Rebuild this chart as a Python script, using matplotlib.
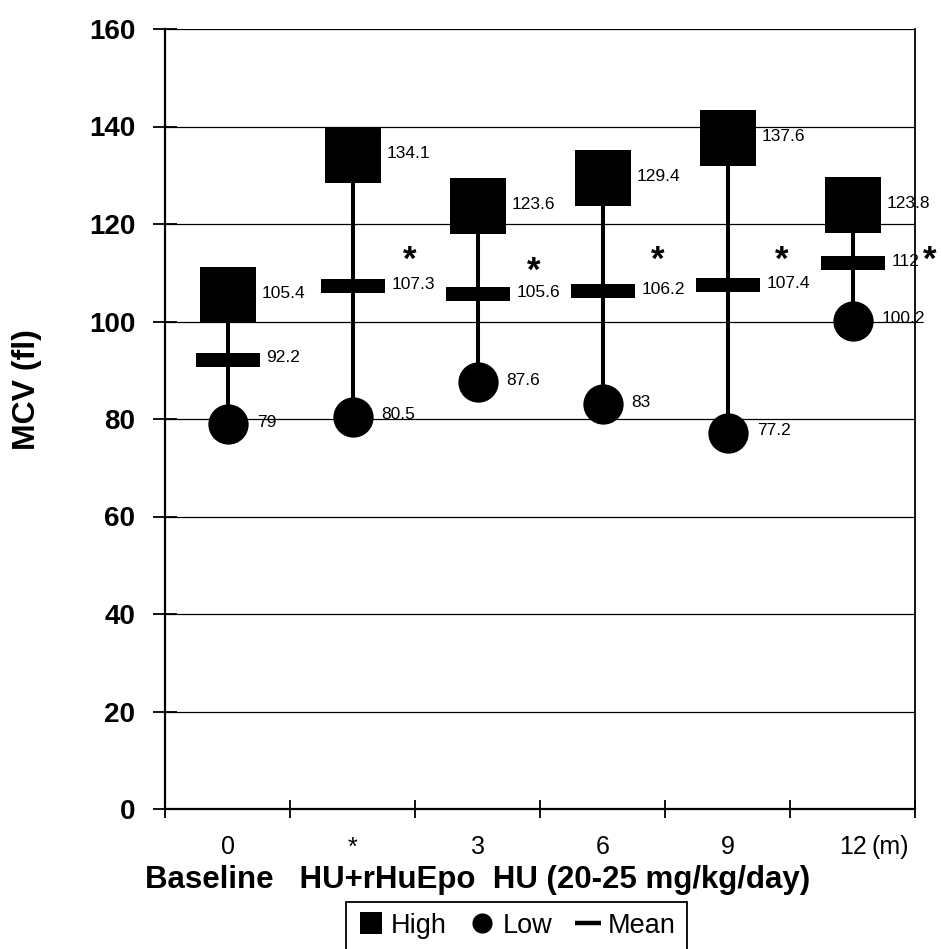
import numpy as np
import matplotlib
matplotlib.use('Agg')
import matplotlib.pyplot as plt
from matplotlib.lines import Line2D

plt.rcParams['font.family'] = ['Liberation Sans', 'DejaVu Sans']

# data
categories = ['0', '*', '3', '6', '9', '12']
high = [105.4, 134.1, 123.6, 129.4, 137.6, 123.8]
low = [79, 80.5, 87.6, 83, 77.2, 100.2]
mean = [92.2, 107.3, 105.6, 106.2, 107.4, 112]
# significance stars (x between groups, y in data units)
star_x = [1.46, 2.45, 3.44, 4.43, 5.62]
star_y = [114.7, 112.4, 114.7, 114.7, 114.7]

W, H = 941, 949
fig = plt.figure(figsize=(W / 100, H / 100), dpi=100)
ax = fig.add_axes([165 / W, 1 - 809 / H, 750 / W, 780 / H])

x = np.arange(len(categories))
ax.set_xlim(-0.5, len(categories) - 0.5)
ax.set_ylim(0, 160)

# grid
ax.set_yticks(np.arange(0, 161, 20))
ax.yaxis.grid(True, color='black', lw=0.9)
ax.set_axisbelow(True)

# stems and markers
ax.vlines(x, low, high, color='black', lw=2.9, zorder=2)
ax.plot(x, high, ls='none', marker='s', ms=40, mfc='black', mec='black', mew=0, zorder=3)
ax.plot(x, low, ls='none', marker='o', ms=29, mfc='black', mec='black', mew=0, zorder=3)
bar = [(-1, -0.21), (1, -0.21), (1, 0.21), (-1, 0.21), (-1, -0.21)]
ax.plot(x, mean, ls='none', marker=bar, ms=46, mfc='black', mec='black', mew=0, zorder=3)

# value labels
for i in range(len(categories)):
    ax.annotate('%g' % high[i], (x[i], high[i]), xytext=(24.5, 1.2), textcoords='offset points',
                fontsize=12.5, va='center', ha='left', zorder=4)
    ax.annotate('%g' % mean[i], (x[i], mean[i]), xytext=(28, 1.2), textcoords='offset points',
                fontsize=12.5, va='center', ha='left', zorder=4)
    ax.annotate('%g' % low[i], (x[i], low[i]), xytext=(21, 1.2), textcoords='offset points',
                fontsize=12.5, va='center', ha='left', zorder=4)

star_fs = 25
for sx, sy in zip(star_x, star_y):
    ax.annotate('*', (sx, sy), xytext=(0, -0.57 * star_fs), textcoords='offset points',
                fontsize=star_fs, fontweight='bold', ha='center', va='baseline',
                annotation_clip=False)

# spines
ax.spines['top'].set_visible(False)
for s in ['left', 'bottom']:
    ax.spines[s].set_linewidth(1.6)
ax.spines['right'].set_linewidth(1.3)

# ticks
ax.set_xticks(x)
ax.set_xticklabels(categories, fontsize=18)
ax.set_xticks(np.arange(-0.5, len(categories), 1), minor=True)
ax.tick_params(axis='x', which='major', length=0, pad=19)
ax.tick_params(axis='x', which='minor', direction='inout', length=13, width=1.3)
ax.tick_params(axis='y', direction='inout', length=17, width=1.3, pad=13, labelsize=20)
for t in ax.get_yticklabels():
    t.set_fontweight('bold')
ax.annotate('(m)', (x[-1], 0), xytext=(14, -19), textcoords='offset points',
            fontsize=18, ha='left', va='top', annotation_clip=False)

# axis titles
fig.text(27 / W, 1 - 390 / H, 'MCV (fl)', rotation=90, fontsize=23, fontweight='bold',
         ha='center', va='center')
fig.text(145 / W, 1 - 888 / H, 'Baseline   HU+rHuEpo  HU (20-25 mg/kg/day)',
         fontsize=22.5, fontweight='bold', ha='left', va='baseline')

# legend
handles = [
    Line2D([], [], ls='none', marker='s', ms=16.5, mfc='black', mec='black', mew=0),
    Line2D([], [], ls='none', marker='o', ms=14.5, mfc='black', mec='black', mew=0),
    Line2D([], [], ls='none', marker='_', ms=19, mec='black', mew=3.2),
]
leg = fig.legend(handles, ['High', 'Low', 'Mean'], loc='upper center',
                 bbox_to_anchor=(516.5 / W, 1 - 902 / H), ncol=3, fontsize=19.5,
                 handlelength=1.0, handletextpad=0.25, columnspacing=0.8,
                 borderaxespad=0, borderpad=0.4, fancybox=False, framealpha=1)
leg.get_frame().set_edgecolor('black')
leg.get_frame().set_linewidth(1.3)

fig.savefig('out.png', dpi=100)
